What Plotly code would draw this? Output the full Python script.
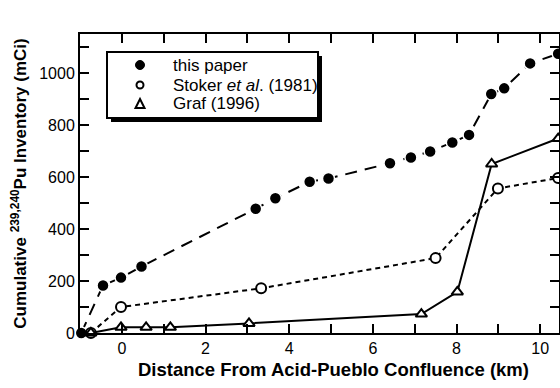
import plotly.graph_objects as go

# ---- data ----
paper_x = [-0.97, -0.45, -0.02, 0.47, 3.20, 3.67, 4.49, 4.94, 6.41, 6.91, 7.37, 7.90, 8.30, 8.83, 9.14, 9.76, 10.43]
paper_y = [0, 183, 213, 256, 478, 518, 582, 594, 653, 675, 698, 733, 762, 919, 941, 1037, 1074]

stoker_x = [-0.74, -0.02, 3.33, 7.50, 8.99, 10.43]
stoker_y = [0, 100, 172, 288, 556, 596]

graf_x = [-0.74, -0.02, 0.58, 1.16, 3.04, 7.16, 8.02, 8.84, 10.43]
graf_y = [0, 22, 22, 22, 37, 73, 158, 650, 748]

x_tickvals = [0, 2, 4, 6, 8, 10]
x_minorvals = [-1, 1, 3, 5, 7, 9]
y_tickvals = [0, 200, 400, 600, 800, 1000]
y_minorvals = [100, 300, 500, 700, 900, 1100]

names = ["this paper", "Stoker <i>et al</i>. (1981)", "Graf (1996)"]
x_title = "Distance From Acid-Pueblo Confluence (km)"
y_title = "Cumulative <sup>239,240</sup>Pu Inventory (mCi)"

FONT = "Liberation Sans, Arial, sans-serif"

fig = go.Figure()

fig.add_trace(go.Scatter(
    x=paper_x, y=paper_y, mode="lines+markers", name=names[0], cliponaxis=False,
    line=dict(color="black", width=2, dash="12px,8px"),
    marker=dict(symbol="circle", size=12, color="black", line=dict(color="white", width=1.5))))
fig.add_trace(go.Scatter(
    x=stoker_x, y=stoker_y, mode="lines+markers", name="Stoker et al. (1981)", cliponaxis=False,
    line=dict(color="black", width=2, dash="5px,4px"),
    marker=dict(symbol="circle", size=10, color="white", line=dict(color="black", width=2))))
fig.add_trace(go.Scatter(
    x=graf_x, y=graf_y, mode="lines+markers", name=names[2], cliponaxis=False,
    line=dict(color="black", width=2),
    marker=dict(symbol="triangle-up", size=10, color="white", line=dict(color="black", width=2))))

L, R, T, B = 80, 1, 34, 55
W, H = 560, 388
pw, ph = W - L - R, H - T - B

def px2x(px):
    return (px - L) / pw

def py2y(py):
    return (H - B - py) / ph

def axis_style(tickvals, minorvals):
    return dict(showline=True, linecolor="black", linewidth=2, mirror="allticks",
                ticks="inside", ticklen=9, tickwidth=2, tickcolor="black",
                tickmode="array", tickvals=tickvals,
                minor=dict(tickmode="array", tickvals=minorvals, ticks="inside",
                           ticklen=9, tickwidth=2, tickcolor="black", showgrid=False),
                showgrid=False, zeroline=False, automargin=False,
                tickfont=dict(family=FONT, size=16, color="black"))

fig.update_xaxes(range=[-1, 10.45], **axis_style(x_tickvals, x_minorvals))
fig.update_yaxes(range=[0, 1150], **axis_style(y_tickvals, y_minorvals))
fig.update_yaxes(title=dict(text=y_title, standoff=8,
                            font=dict(family=FONT, size=17, color="black", weight="bold")))

# ---- legend box (frame + drop shadow) ----
fig.add_shape(type="rect", xref="paper", yref="paper", layer="above",
              x0=px2x(111), x1=px2x(322), y0=py2y(122), y1=py2y(56),
              fillcolor="black", line=dict(width=0))
fig.add_shape(type="rect", xref="paper", yref="paper", layer="above",
              x0=px2x(107), x1=px2x(318), y0=py2y(118), y1=py2y(52),
              fillcolor="white", line=dict(color="black", width=2))

rows = [65, 85, 104]
kx = 140
# legend keys
r = 4.5
fig.add_shape(type="circle", xref="paper", yref="paper", layer="above",
              x0=px2x(kx - r), x1=px2x(kx + r), y0=py2y(rows[0] + r), y1=py2y(rows[0] - r),
              fillcolor="black", line=dict(color="black", width=1))
r = 3.5
fig.add_shape(type="circle", xref="paper", yref="paper", layer="above",
              x0=px2x(kx - r), x1=px2x(kx + r), y0=py2y(rows[1] + r), y1=py2y(rows[1] - r),
              fillcolor="white", line=dict(color="black", width=2))
ty = rows[2]
tri = "M {:.4f} {:.4f} L {:.4f} {:.4f} L {:.4f} {:.4f} Z".format(
    px2x(kx - 4.5), py2y(ty + 4), px2x(kx + 4.5), py2y(ty + 4), px2x(kx), py2y(ty - 5))
fig.add_shape(type="path", xref="paper", yref="paper", layer="above", path=tri,
              fillcolor="white", line=dict(color="black", width=2))

for name, ry in zip(names, rows):
    fig.add_annotation(text=name, xref="paper", yref="paper", x=px2x(171), y=py2y(ry),
                       showarrow=False, xanchor="left", yanchor="middle",
                       font=dict(family=FONT, size=17, color="black"))

fig.add_annotation(text=x_title, xref="paper", yref="paper", x=px2x(333.5), y=py2y(369),
                   showarrow=False, xanchor="center", yanchor="middle",
                   font=dict(family=FONT, size=18.5, color="black", weight="bold"))

fig.update_layout(
    width=W, height=H, margin=dict(l=L, r=R, t=T, b=B),
    paper_bgcolor="white", plot_bgcolor="white",
    font=dict(family=FONT, size=16, color="black"),
    showlegend=False,
)

fig.write_html("out.html")
